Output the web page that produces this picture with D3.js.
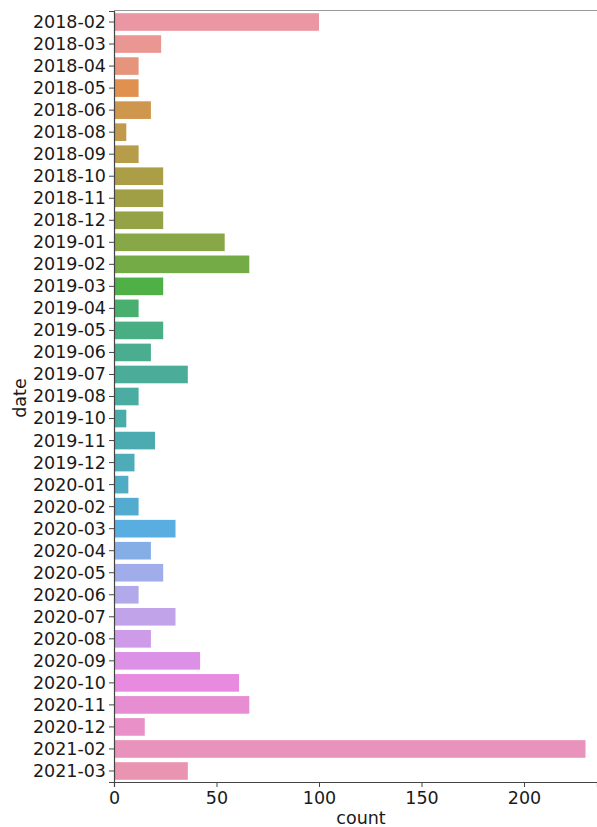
<!DOCTYPE html>
<html>
<head>
<meta charset="utf-8">
<script src="https://cdn.jsdelivr.net/npm/d3@7"></script>
<style>
  body { margin: 0; background: #fff; }
  svg { display: block; }
  text { font-family: "DejaVu Sans", sans-serif; }
</style>
</head>
<body>
<svg id="chart" width="597" height="827"></svg>
<script>
const categories = ["2018-02","2018-03","2018-04","2018-05","2018-06","2018-08","2018-09","2018-10","2018-11","2018-12",
  "2019-01","2019-02","2019-03","2019-04","2019-05","2019-06","2019-07","2019-08","2019-10","2019-11","2019-12",
  "2020-01","2020-02","2020-03","2020-04","2020-05","2020-06","2020-07","2020-08","2020-09","2020-10","2020-11","2020-12",
  "2021-02","2021-03"];
const counts = [100,23,12,12,18,6,12,24,24,24,
  54,66,24,12,24,18,36,12,6,20,10,
  7,12,30,18,24,12,30,18,42,61,66,15,
  230,36];
const xTicks = [0,50,100,150,200];
const xLabel = "count";
const yLabel = "date";

// HUSL (seaborn husl_palette) conversion
const M = [[3.2406,-1.5372,-0.4986],[-0.9689,1.8758,0.0415],[0.0557,-0.2040,1.0570]];
const refU = 0.19784, refV = 0.46834, labE = 0.008856, labK = 903.3;
function maxChroma(L, H) {
  const hr = H * Math.PI / 180, sinH = Math.sin(hr), cosH = Math.cos(hr);
  const sub1 = Math.pow(L + 16, 3) / 1560896.0;
  const sub2 = sub1 > 0.008856 ? sub1 : L / 903.3;
  let res = Infinity;
  for (const [m1, m2, m3] of M) {
    const top = (0.99915*m1 + 1.05122*m2 + 1.14460*m3) * sub2;
    const rb = 0.86330*m3 - 0.17266*m2;
    const lb = 0.12949*m3 - 0.38848*m1;
    const bottom = (rb*sinH + lb*cosH) * sub2;
    for (const t of [0, 1]) {
      const C = L * (top - 1.05122*t) / (bottom + 0.17266*sinH*t);
      if (C > 0 && C < res) res = C;
    }
  }
  return res;
}
function fInv(t) { return Math.pow(t,3) > labE ? Math.pow(t,3) : (116*t - 16)/labK; }
function fromLinear(c) { return c <= 0.0031308 ? 12.92*c : 1.055*Math.pow(c, 1/2.4) - 0.055; }
function huslToRgb(H, S, L) {
  const C = maxChroma(L, H) / 100 * S;
  const hr = H * Math.PI / 180;
  const U = Math.cos(hr)*C, V = Math.sin(hr)*C;
  const varY = fInv((L + 16)/116);
  const varU = U/(13*L) + refU, varV = V/(13*L) + refV;
  const Y = varY;
  const X = -(9*Y*varU)/((varU - 4)*varV - varU*varV);
  const Z = (9*Y - 15*varV*Y - varV*X)/(3*varV);
  return M.map(r => Math.min(1, Math.max(0, fromLinear(r[0]*X + r[1]*Y + r[2]*Z))));
}
function desaturate(rgb, prop) {
  const c = d3.hsl(d3.rgb(rgb[0]*255, rgb[1]*255, rgb[2]*255));
  c.s = c.s * prop;
  return c.formatHex();
}
function huslPalette(n, l) {
  const out = [];
  for (let i = 0; i < n; i++) {
    let h = (i / n + 0.01) % 1;
    out.push(desaturate(huslToRgb(h * 359, 0.9 * 99, l * 99), 0.75));
  }
  return out;
}
const colors = huslPalette(categories.length, 0.7);

const margin = {left: 114, right: 0, top: 11, bottom: 45};
const W = 597, H = 827;
const svg = d3.select("#chart");
const x = d3.scaleLinear().domain([0, 235.6]).range([margin.left, W - margin.right]);
const y = d3.scaleBand().domain(categories).range([margin.top, H - margin.bottom]).paddingInner(0.2).paddingOuter(0.1);

svg.append("g").selectAll("rect").data(categories).join("rect")
  .attr("x", x(0))
  .attr("y", d => y(d))
  .attr("width", (d, i) => x(counts[i]) - x(0))
  .attr("height", y.bandwidth())
  .attr("fill", (d, i) => colors[i]);

// top spine
svg.append("line").attr("x1", margin.left).attr("x2", W).attr("y1", margin.top - 0.5).attr("y2", margin.top - 0.5)
  .attr("stroke", "#999").attr("stroke-width", 1.2);

const xAxis = svg.append("g").attr("transform", `translate(0,${H - margin.bottom})`)
  .call(d3.axisBottom(x).tickValues(xTicks).tickSize(5).tickPadding(4));
const yAxis = svg.append("g").attr("transform", `translate(${margin.left},0)`)
  .call(d3.axisLeft(y).tickSize(5).tickPadding(3));
[xAxis, yAxis].forEach(g => {
  g.select(".domain").attr("stroke", "#444").attr("stroke-width", 1.2);
  g.selectAll(".tick line").attr("stroke", "#444").attr("stroke-width", 1);
  g.selectAll(".tick text").attr("fill", "#1a1a1a").style("font-size", "17.5px").style("font-family", "'DejaVu Sans', sans-serif");
});
yAxis.selectAll(".tick text").attr("dy", "0.34em");
xAxis.selectAll(".tick text").attr("dy", "0.75em");

svg.append("text").attr("x", 361).attr("y", 824).attr("text-anchor", "middle")
  .attr("fill", "#1a1a1a").style("font-size", "17.5px").text(xLabel);
svg.append("text").attr("transform", "translate(26,398) rotate(-90)").attr("text-anchor", "middle")
  .attr("fill", "#1a1a1a").style("font-size", "17.5px").text(yLabel);
</script>
</body>
</html>
